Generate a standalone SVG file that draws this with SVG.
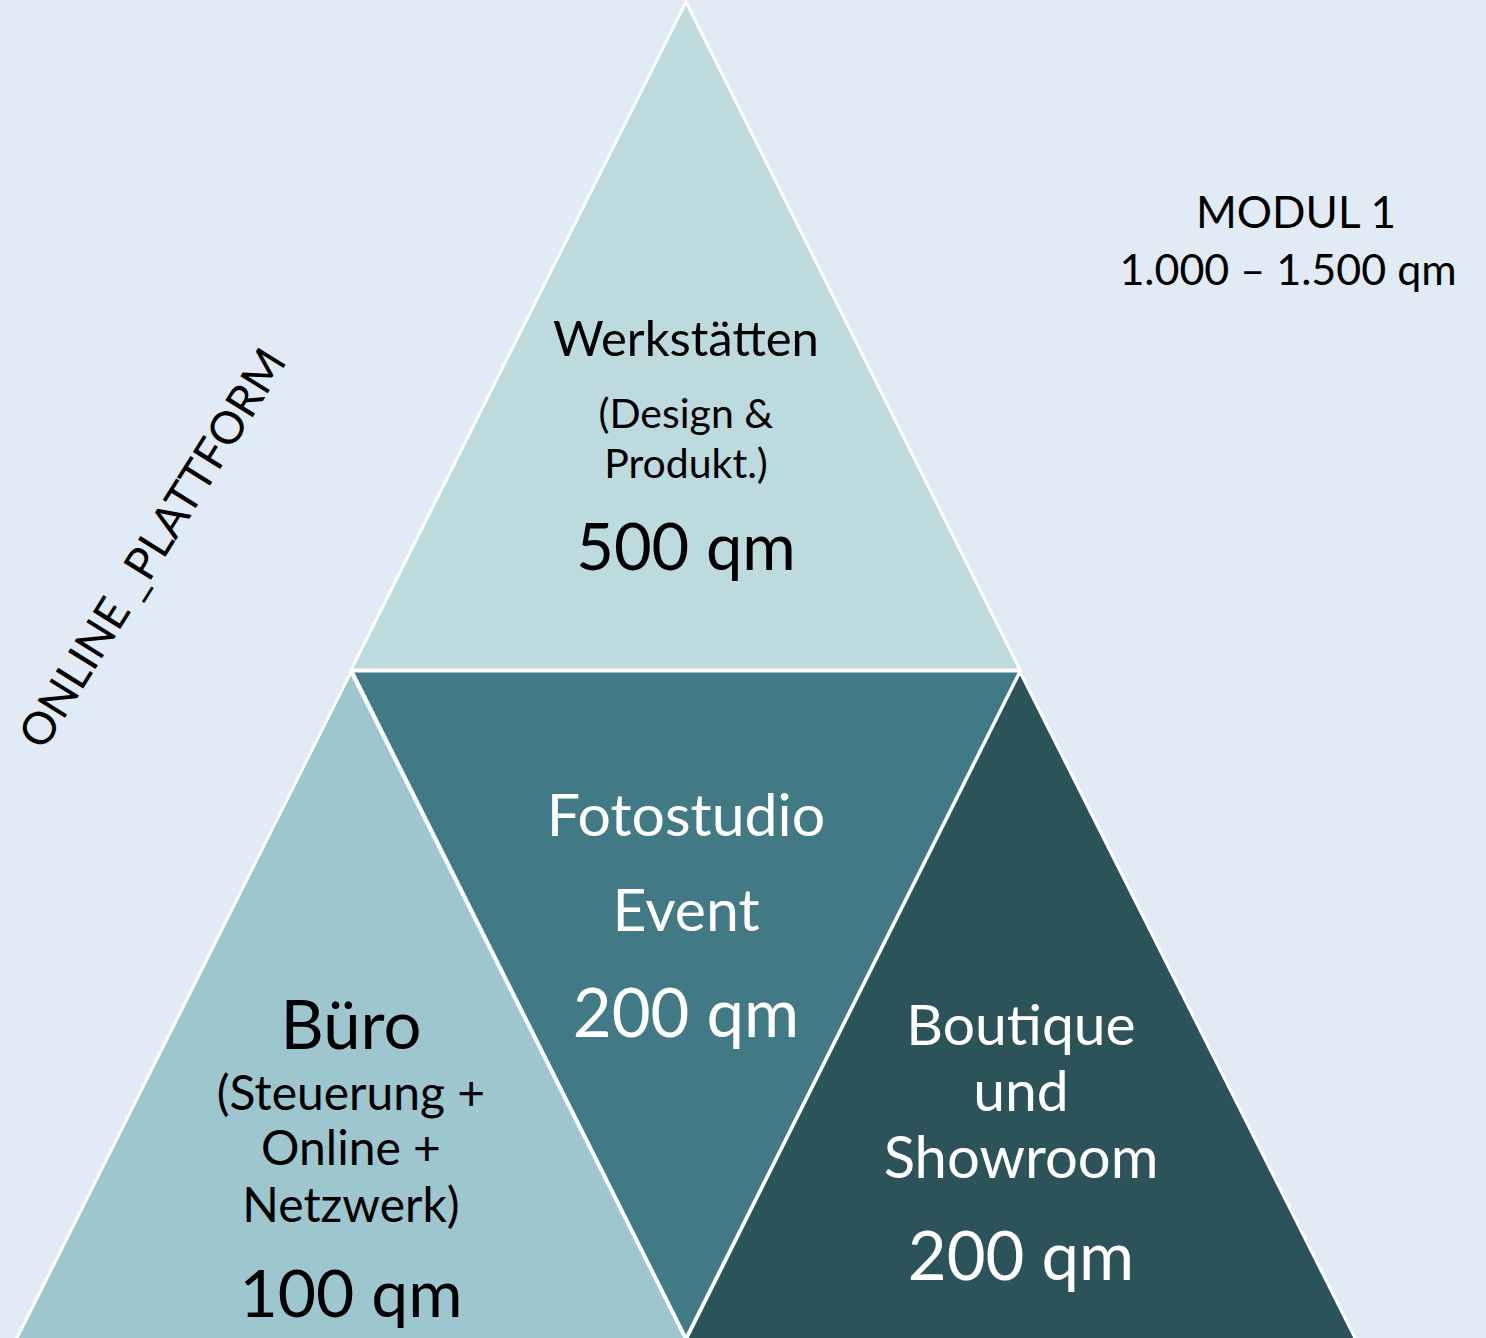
<svg xmlns="http://www.w3.org/2000/svg" width="1486" height="1338" viewBox="0 0 1486 1338">
<style>
.tri{stroke:#ffffff;stroke-width:3;stroke-linejoin:miter}
text{font-family:Lato,"Open Sans","Liberation Sans",sans-serif;text-anchor:middle}
.k{fill:#000000}
.w{fill:#ffffff}
</style>
<rect width="1486" height="1338" fill="#E1EBF5"/>
<g id="werkstaetten">
<polygon class="tri" points="686,2 1020,670 351,670" fill="#BDDADF"/>
<text class="k" x="686" y="356" font-size="49">Werkstätten</text>
<text class="k" x="686" y="428" font-size="41">(Design &amp;</text>
<text class="k" x="686" y="478" font-size="41">Produkt.)</text>
<text class="k" x="686" y="570" font-size="65">500 qm</text>
</g>
<g id="buero">
<polygon class="tri" points="351,672 686,1340 16,1340" fill="#9EC6CE"/>
<text class="k" x="351" y="1049" font-size="67">Büro</text>
<text class="k" x="351" y="1110" font-size="48">(Steuerung +</text>
<text class="k" x="351" y="1165" font-size="48">Online +</text>
<text class="k" x="351" y="1222" font-size="48">Netzwerk)</text>
<text class="k" x="351" y="1317" font-size="66">100 qm</text>
</g>
<g id="fotostudio">
<polygon class="tri" points="352,671 1020,671 686,1338" fill="#417A84"/>
<text class="w" x="686" y="836" font-size="59">Fotostudio</text>
<text class="w" x="686" y="931" font-size="59">Event</text>
<text class="w" x="686" y="1037" font-size="67">200 qm</text>
</g>
<g id="boutique">
<polygon class="tri" points="1020,672 1356,1340 686,1340" fill="#2C535A"/>
<text class="w" x="1021" y="1045" font-size="57">Boutique</text>
<text class="w" x="1021" y="1111" font-size="57">und</text>
<text class="w" x="1021" y="1178" font-size="58">Showroom</text>
<text class="w" x="1021" y="1280" font-size="67">200 qm</text>
</g>
<g id="online-plattform">
<text class="k" x="152" y="548" font-size="45" transform="rotate(-58 152 548)" dy="16">ONLINE _PLATTFORM</text>
</g>
<g id="modul">
<text class="k" x="1296" y="228" font-size="44">MODUL 1</text>
<text class="k" x="1288" y="285" font-size="43">1.000 – 1.500 qm</text>
</g>
<g id="connectors"/>
</svg>
